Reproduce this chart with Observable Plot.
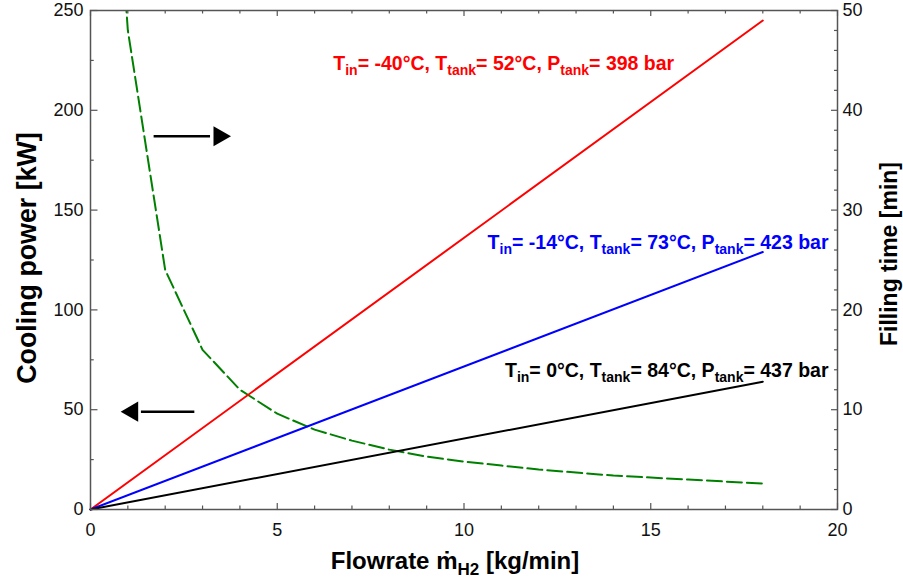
<!DOCTYPE html>
<html>
<head>
<meta charset="utf-8">
<script src="https://cdn.jsdelivr.net/npm/d3@7"></script>
<script src="https://cdn.jsdelivr.net/npm/@observablehq/plot@0.6"></script>
<style>
  html, body { margin: 0; padding: 0; background: #fff; }
</style>
</head>
<body>
<div id="chart"></div>
<script>
// ---- data ----
const flowEnds = [0, 18];                 // kg/min
const coolRed = [0, 245];                 // kW, Tin=-40°C
const coolBlue = [0, 129];                // kW, Tin=-14°C
const coolBlack = [0, 64];                // kW, Tin=0°C
const fillFlow = [0.9, 1, 2, 3, 4, 5, 6, 7, 8, 9, 10, 11, 12, 13, 14, 15, 16, 17, 18];
const fillTime = [53.3, 48, 24, 16, 12, 9.6, 8, 6.9, 6, 5.3, 4.8, 4.4, 4, 3.7, 3.4, 3.2, 3.0, 2.8, 2.6]; // min
const xTicks = [0, 5, 10, 15, 20];
const xMinor = [1, 2, 3, 4, 6, 7, 8, 9, 11, 12, 13, 14, 16, 17, 18, 19];
const yTicks = [0, 50, 100, 150, 200, 250];
const yMinor = [25, 75, 125, 175, 225];
const rTicks = [0, 10, 20, 30, 40, 50];
const rMinor = [2, 4, 6, 8, 12, 14, 16, 18, 22, 24, 26, 28, 32, 34, 36, 38, 42, 44, 46, 48];
const labelsStart = [
  {text: "T_{in}= -40°C, T_{tank}= 52°C, P_{tank}= 398 bar", x: 6.5, y: 223.5, color: "#ff0000"}
];
const labelsEnd = [
  {text: "T_{in}= -14°C, T_{tank}= 73°C, P_{tank}= 423 bar", x: 19.76, y: 133.5, color: "#0000ff"},
  {text: "T_{in}= 0°C, T_{tank}= 84°C, P_{tank}= 437 bar", x: 19.76, y: 69.5, color: "#000000"}
];
const arrowRight = {x1: 1.69, x2: 3.2, y: 187, tip: 3.45};
const arrowLeft = {x1: 2.78, x2: 1.35, y: 49, tip: 1.12};
const ratio = 5; // 50 min on right axis == 250 kW on left axis

const mk = (xs, ys) => xs.map((x, i) => ({x, y: ys[i]}));
const red = mk(flowEnds, coolRed);
const blue = mk(flowEnds, coolBlue);
const black = mk(flowEnds, coolBlack);
const fill = mk(fillFlow, fillTime);

const tickColor = "#555";

const plot = Plot.plot({
  width: 903,
  height: 581,
  marginLeft: 90,
  marginRight: 66,
  marginTop: 10,
  marginBottom: 72,
  x: {domain: [0, 20], axis: null},
  y: {domain: [0, 250], axis: null},
  style: {fontFamily: "'Liberation Sans', Arial, Helvetica, sans-serif", fontSize: "18px", color: "#111", background: "#fff"},
  marks: [
    // data lines
    Plot.line(fill, {x: "x", y: d => d.y * ratio, stroke: "#008000", strokeWidth: 2, strokeDasharray: "15,5", clip: true}),
    Plot.line(red, {x: "x", y: "y", stroke: "#ff0000", strokeWidth: 2}),
    Plot.line(blue, {x: "x", y: "y", stroke: "#0000ff", strokeWidth: 2}),
    Plot.line(black, {x: "x", y: "y", stroke: "#000", strokeWidth: 2}),
    // frame
    Plot.frame({stroke: tickColor, strokeWidth: 1.5}),
    // inward ticks
    Plot.ruleX(xTicks, {x: d => d, y1: 0, y2: 3, stroke: tickColor, strokeWidth: 1.2}),
    Plot.ruleX(xMinor, {x: d => d, y1: 0, y2: 1.75, stroke: tickColor, strokeWidth: 1.2}),
    Plot.ruleX(xTicks, {x: d => d, y1: 250, y2: 247, stroke: tickColor, strokeWidth: 1.2}),
    Plot.ruleX(xMinor, {x: d => d, y1: 250, y2: 248.25, stroke: tickColor, strokeWidth: 1.2}),
    Plot.ruleY(yTicks, {y: d => d, x1: 0, x2: 0.2, stroke: tickColor, strokeWidth: 1.2}),
    Plot.ruleY(yMinor, {y: d => d, x1: 0, x2: 0.1, stroke: tickColor, strokeWidth: 1.2}),
    Plot.ruleY(rTicks, {y: d => d * ratio, x1: 20, x2: 19.84, stroke: tickColor, strokeWidth: 1.2}),
    Plot.ruleY(rMinor, {y: d => d * ratio, x1: 20, x2: 19.92, stroke: tickColor, strokeWidth: 1.2}),
    // tick labels
    Plot.axisX({ticks: xTicks, tickSize: 0, tickPadding: 14, tickFormat: d => String(d), anchor: "bottom", label: null}),
    Plot.axisY({ticks: yTicks, tickSize: 0, tickPadding: 7, tickFormat: d => String(d), anchor: "left", label: null}),
    Plot.axisY({ticks: rTicks.map(d => d * ratio), tickSize: 0, tickPadding: 5, tickFormat: d => String(d / ratio), anchor: "right", label: null}),
    // arrows
    Plot.link([arrowRight], {x1: "x1", x2: "x2", y1: "y", y2: "y", stroke: "#000", strokeWidth: 2.5}),
    Plot.dot([arrowRight], {x: "tip", y: "y", symbol: "triangle", r: 7.5, fill: "#000", rotate: 90}),
    Plot.link([arrowLeft], {x1: "x1", x2: "x2", y1: "y", y2: "y", stroke: "#000", strokeWidth: 2.5}),
    Plot.dot([arrowLeft], {x: "tip", y: "y", symbol: "triangle", r: 7.5, fill: "#000", rotate: -90}),
    // curve labels
    Plot.text(labelsStart, {x: "x", y: "y", text: "text", fill: "color", textAnchor: "start", fontSize: 19.5, fontWeight: "bold"}),
    Plot.text(labelsEnd, {x: "x", y: "y", text: "text", fill: "color", textAnchor: "end", fontSize: 19.5, fontWeight: "bold"}),
    // axis titles
    Plot.text(["Cooling power [kW]"], {frameAnchor: "left", textAnchor: "middle", lineAnchor: "middle", dx: -63, dy: -2, rotate: -90, fontSize: 26.8, fontWeight: "bold", fill: "#000"}),
    Plot.text(["Filling time [min]"], {frameAnchor: "right", textAnchor: "middle", lineAnchor: "middle", dx: 52, dy: -6, rotate: -90, fontSize: 23, fontWeight: "bold", fill: "#000"}),
    Plot.text(["Flowrate ṁ_{H2} [kg/min]"], {frameAnchor: "bottom", textAnchor: "middle", lineAnchor: "middle", dx: -9, dy: 52, fontSize: 24, fontWeight: "bold", fill: "#000"})
  ]
});

// turn _{...} into subscripts
plot.querySelectorAll("text").forEach(t => {
  const s = t.textContent;
  if (!s.includes("_{")) return;
  const big = parseFloat(t.getAttribute("font-size") || t.parentNode.getAttribute("font-size") || 19.5);
  const small = Math.round(big * 0.72);
  const shift = Math.round(big * 0.26);
  while (t.firstChild) t.removeChild(t.firstChild);
  const parts = s.split(/_\{([^}]*)\}/);
  let down = false;
  parts.forEach((p, i) => {
    if (p === "") return;
    const ts = document.createElementNS("http://www.w3.org/2000/svg", "tspan");
    ts.textContent = p;
    if (i % 2 === 1) {
      ts.setAttribute("font-size", small);
      if (!down) { ts.setAttribute("dy", shift); down = true; }
    } else if (down) {
      ts.setAttribute("dy", -shift); down = false;
    }
    t.appendChild(ts);
  });
});

document.getElementById("chart").appendChild(plot);
</script>
</body>
</html>
